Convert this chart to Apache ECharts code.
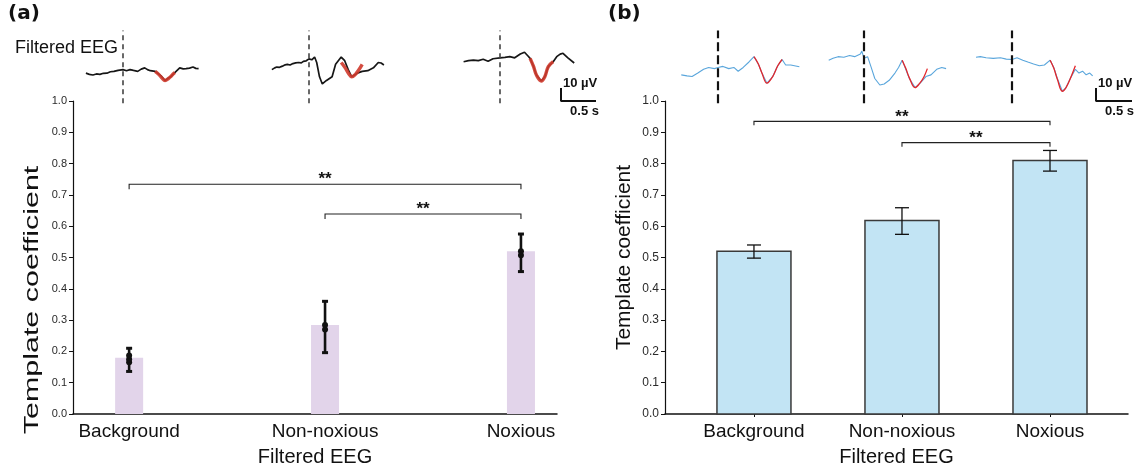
<!DOCTYPE html>
<html>
<head>
<meta charset="utf-8">
<title>Template coefficient – filtered EEG</title>
<script src="https://cdn.jsdelivr.net/npm/echarts@6/dist/echarts.min.js"></script>
<style>
  html, body { margin: 0; padding: 0; background: #fff; }
  #chart { width: 1143px; height: 472px; }
</style>
</head>
<body>
<div id="chart"></div>
<script>
// ---- data ----------------------------------------------------------------
const categories = ['Background', 'Non-noxious', 'Noxious'];

// panel (a): per-condition mean, spread and individual subject values
const meanA = [0.18, 0.284, 0.52];
const lowA = [0.136, 0.196, 0.455];
const highA = [0.21, 0.36, 0.575];
const pointsA = [[0.165, 0.175, 0.187], [0.27, 0.284], [0.507, 0.52]];
// significance pairs: [from, to, level]
const sigA = [[0, 2, 0.734], [1, 2, 0.639]];

// panel (b): mean with error bars
const meanB = [0.52, 0.618, 0.81];
const lowB = [0.498, 0.574, 0.776];
const highB = [0.54, 0.659, 0.842];
const sigB = [[0, 2, 0.935], [1, 2, 0.867]];

// example filtered EEG traces: [time (s) from stimulus, amplitude (µV)]
const traceA1 = [[-0.53,-0.9],[-0.48,-1.8],[-0.43,-2.3],[-0.38,-1.5],[-0.33,-1.8],[-0.28,-1.0],[-0.23,-0.9],[-0.18,0.2],[-0.13,0.5],[-0.07,1.2],[0,1.8],[0.05,1.0],[0.10,1.8],[0.15,1.2],[0.21,0.5],[0.26,2.2],[0.31,3.2],[0.35,1.8],[0.39,1.0],[0.46,0.5],[0.54,-2.8],[0.60,-6.5],[0.68,-3.7],[0.74,-0.4],[0.81,3.2],[0.86,2.4],[0.90,2.6],[0.95,3.0],[1.00,3.8],[1.04,2.8],[1.08,2.6]];
const templA1 = [[0.46,0.5],[0.51,-1.8],[0.56,-4.8],[0.60,-6.5],[0.65,-5.0],[0.69,-3.0],[0.74,-0.4]];
const traceA2 = [[-0.53,1.8],[-0.49,3.2],[-0.46,3.8],[-0.42,3.6],[-0.38,4.5],[-0.34,5.5],[-0.31,5.9],[-0.27,5.4],[-0.23,6.5],[-0.19,7.0],[-0.15,7.3],[-0.11,7.0],[-0.08,8.2],[-0.04,8.6],[0,10.1],[0.04,9.4],[0.08,11.5],[0.11,7.3],[0.15,-3.7],[0.19,-9.2],[0.25,-6.5],[0.33,-3.7],[0.38,5.9],[0.46,11.5],[0.51,8.7],[0.56,1.8],[0.61,-3.7],[0.69,-0.9],[0.76,0.5],[0.84,1.0],[0.92,3.2],[0.99,7.3],[1.03,6.9],[1.07,5.4]];
const templA2 = [[0.46,7.3],[0.52,3.0],[0.57,-1.5],[0.61,-3.7],[0.66,-2.0],[0.71,1.5],[0.76,5.9]];
const traceA3 = [[-0.52,7.9],[-0.45,8.7],[-0.38,9.2],[-0.31,8.7],[-0.24,9.8],[-0.17,8.2],[-0.10,10.2],[0,10.9],[0.07,11.3],[0.14,11.8],[0.21,10.9],[0.29,13.8],[0.35,15.2],[0.40,12.3],[0.43,10.5],[0.48,4.1],[0.52,-2.3],[0.59,-6.9],[0.64,-3.6],[0.69,4.1],[0.76,7.9],[0.81,11.8],[0.86,13.8],[0.90,14.4],[0.97,10.8],[1.06,6.9]];
const templA3 = [[0.43,10.5],[0.48,4.1],[0.52,-2.3],[0.59,-6.9],[0.64,-3.6],[0.69,4.1],[0.76,7.9]];

const traceB1 = [[-0.51,-2.2],[-0.43,-3.0],[-0.36,-3.5],[-0.28,-0.8],[-0.20,2.1],[-0.13,3.5],[-0.05,2.6],[0,3.5],[0.07,4.3],[0.15,2.6],[0.22,3.5],[0.28,0.6],[0.35,3.5],[0.43,7.7],[0.50,11.8],[0.56,6.2],[0.61,-0.8],[0.68,-8.6],[0.76,-3.5],[0.83,4.8],[0.89,9.6],[0.94,5.4],[1.01,5.4],[1.13,4.0]];
const templB1 = [[0.50,11.8],[0.56,6.2],[0.61,-0.8],[0.68,-8.6],[0.76,-3.5],[0.83,4.8],[0.89,9.6]];
const traceB2 = [[-0.49,9.1],[-0.43,10.5],[-0.36,11.8],[-0.28,11.3],[-0.20,12.7],[-0.13,11.8],[-0.05,13.8],[-0.03,16.1],[0,10.5],[0.05,11.8],[0.10,3.5],[0.15,-5.0],[0.22,-10.0],[0.28,-9.2],[0.35,-6.4],[0.43,-0.8],[0.48,3.5],[0.53,9.1],[0.58,2.1],[0.63,-5.0],[0.71,-12.0],[0.78,-8.6],[0.86,-3.5],[0.93,-2.2],[1.01,2.1],[1.08,3.5],[1.14,2.6]];
const templB2 = [[0.53,9.1],[0.58,2.8],[0.63,-4.5],[0.71,-12.0],[0.77,-9.0],[0.83,-4.0],[0.88,2.6]];
const traceB3 = [[-0.50,11.3],[-0.44,11.8],[-0.36,11.0],[-0.26,10.5],[-0.16,11.0],[-0.08,9.9],[0,9.6],[0.07,11.0],[0.15,9.1],[0.22,7.7],[0.30,6.2],[0.38,4.8],[0.45,5.4],[0.53,9.1],[0.58,3.5],[0.63,-5.0],[0.70,-14.8],[0.75,-12.0],[0.81,-5.0],[0.88,2.1],[0.93,-0.8],[0.98,0.6],[1.03,-2.2],[1.08,-0.8],[1.12,-3.0]];
const templB3 = [[0.53,9.1],[0.58,3.0],[0.63,-5.5],[0.70,-14.8],[0.75,-12.0],[0.81,-5.0],[0.88,4.8]];

// scale bar: 0.5 s by 10 µV
const scaleBar = [[0, 10], [0, 0], [0.5, 0]];

// ---- layout & style ------------------------------------------------------
const FONT = '"Liberation Sans", Arial, Helvetica, sans-serif';
const INK = '#111';
const BAR_A = '#e2d4ea';
const BAR_B = '#c2e4f4';

// inset geometry (pixel position of stimulus marker, pixels per second)
const insetsA = [traceA1, traceA2, traceA3].map((t, k) => ({ x0: [123, 309, 500][k], pps: 70, trace: t, templ: [templA1, templA2, templA3][k] }));
const insetsB = [traceB1, traceB2, traceB3].map((t, k) => ({ x0: [718, 864, 1012][k], pps: 72, trace: t, templ: [templB1, templB2, templB3][k] }));

const grids = [
  { left: 73, top: 101, width: 484, height: 316 },   // 0: panel a
  { left: 665, top: 101, width: 463, height: 317 },  // 1: panel b
];
const xAxes = [], yAxes = [], series = [];

function tickFmt(v) { return v.toFixed(1); }

function valueY(gridIndex, fontSize) {
  return {
    type: 'value', gridIndex, min: 0, max: 1, interval: 0.1,
    axisLine: { show: true, onZero: false, lineStyle: { color: INK, width: 1.2 } },
    axisTick: { show: true, length: 4, lineStyle: { color: INK } },
    axisLabel: { formatter: tickFmt, fontFamily: FONT, fontSize, color: '#2a2a2a', margin: 6 },
    splitLine: { show: false }
  };
}

// panel a axes: category positions 0,1,2 on a value scale
xAxes.push({
  type: 'value', gridIndex: 0, min: -0.2865, max: 2.184,
  axisLine: { show: true, onZero: false, lineStyle: { color: INK, width: 1.5 } },
  axisTick: { show: false },
  axisLabel: { customValues: [0, 1, 2], formatter: v => categories[v], fontFamily: FONT, fontSize: 19, color: INK, margin: 8 },
  splitLine: { show: false },
  name: 'Filtered EEG', nameLocation: 'middle', nameGap: 33,
  nameTextStyle: { fontFamily: FONT, fontSize: 20, color: INK }
});
yAxes.push(valueY(0, 11));

// panel b axes
xAxes.push({
  type: 'value', gridIndex: 1, min: -0.601, max: 2.527,
  axisLine: { show: true, onZero: false, lineStyle: { color: INK, width: 1.5 } },
  axisTick: { show: true, customValues: [0, 1, 2], length: 3, lineStyle: { color: INK } },
  axisLabel: { customValues: [0, 1, 2], formatter: v => categories[v], fontFamily: FONT, fontSize: 19, color: INK, margin: 8 },
  splitLine: { show: false },
  name: 'Filtered EEG', nameLocation: 'middle', nameGap: 33,
  nameTextStyle: { fontFamily: FONT, fontSize: 20, color: INK }
});
yAxes.push(Object.assign(valueY(1, 12), {
  name: 'Template coefficient', nameLocation: 'middle', nameGap: 30, nameRotate: 90,
  nameTextStyle: { fontFamily: FONT, fontSize: 21, color: INK }
}));

function barSeries(gridIndex, means, frac, style) {
  return {
    type: 'custom', xAxisIndex: gridIndex, yAxisIndex: gridIndex, z: 2,
    data: means.map((m, i) => [i, m]),
    renderItem(params, api) {
      const i = api.value(0);
      const a = api.coord([i - frac / 2, api.value(1)]);
      const b = api.coord([i + frac / 2, 0]);
      return { type: 'rect', shape: { x: a[0], y: a[1], width: b[0] - a[0], height: b[1] - a[1] }, style };
    }
  };
}

function errSeries(gridIndex, lows, highs, opts) {
  return {
    type: 'custom', xAxisIndex: gridIndex, yAxisIndex: gridIndex, z: 4,
    data: lows.map((l, i) => [i, l, highs[i]]),
    renderItem(params, api) {
      const i = api.value(0);
      const lo = api.coord([i, api.value(1)]);
      const hi = api.coord([i, api.value(2)]);
      const st = { stroke: INK, lineWidth: opts.width };
      const kids = [
        { type: 'line', shape: { x1: lo[0], y1: lo[1], x2: hi[0], y2: hi[1] }, style: st },
        { type: 'line', shape: { x1: lo[0] - opts.cap, y1: lo[1], x2: lo[0] + opts.cap, y2: lo[1] }, style: { stroke: INK, lineWidth: opts.capWidth } },
        { type: 'line', shape: { x1: hi[0] - opts.cap, y1: hi[1], x2: hi[0] + opts.cap, y2: hi[1] }, style: { stroke: INK, lineWidth: opts.capWidth } }
      ];
      (opts.points ? opts.points[params.dataIndex] : []).forEach(p => {
        const c = api.coord([i, p]);
        kids.push({ type: 'circle', shape: { cx: c[0], cy: c[1], r: 3 }, style: { fill: INK } });
      });
      return { type: 'group', children: kids };
    }
  };
}

function sigSeries(gridIndex, pairs, tick) {
  return {
    type: 'custom', xAxisIndex: gridIndex, yAxisIndex: gridIndex, z: 5,
    data: pairs,
    renderItem(params, api) {
      const a = api.coord([api.value(0), api.value(2)]);
      const b = api.coord([api.value(1), api.value(2)]);
      return {
        type: 'group', children: [
          { type: 'polyline', shape: { points: [[a[0], a[1] + tick], a, b, [b[0], b[1] + tick]] }, style: { stroke: '#222', lineWidth: 1.1, fill: 'none' } },
          { type: 'text', x: (a[0] + b[0]) / 2, y: a[1] + 4, style: { text: '**', fontFamily: FONT, fontSize: 17, fontWeight: 'bold', fill: INK, align: 'center', verticalAlign: 'bottom' } }
        ]
      };
    }
  };
}

series.push(barSeries(0, meanA, 0.143, { fill: BAR_A }));
series.push(errSeries(0, lowA, highA, { width: 2.6, cap: 3, capWidth: 3, points: pointsA }));
series.push(sigSeries(0, sigA, 5));

series.push(barSeries(1, meanB, 0.5, { fill: BAR_B, stroke: '#3a3a3a', lineWidth: 1.5 }));
series.push(errSeries(1, lowB, highB, { width: 1.3, cap: 7, capWidth: 1.3 }));
series.push(sigSeries(1, sigB, 4));

// EEG inset panels, all on a shared -24..32 µV window
function addInset(inset, look) {
  const g = grids.length;
  grids.push({ left: inset.x0 - 0.6 * inset.pps, top: 30.4, width: 1.8 * inset.pps, height: 72.8 });
  xAxes.push({ type: 'value', gridIndex: g, min: -0.6, max: 1.2, show: false });
  yAxes.push({ type: 'value', gridIndex: g, min: -24, max: 32, show: false });
  series.push({
    type: 'line', xAxisIndex: g, yAxisIndex: g, data: inset.trace, showSymbol: false, z: 3,
    lineStyle: { color: look.trace, width: look.traceWidth },
    markLine: {
      silent: true, symbol: ['none', 'none'], label: { show: false },
      lineStyle: { color: look.marker, width: look.markerWidth, type: look.dash },
      data: [{ xAxis: 0 }]
    }
  });
  series.push({
    type: 'line', xAxisIndex: g, yAxisIndex: g, data: inset.templ, showSymbol: false, smooth: 0.4, z: 4,
    lineStyle: { color: look.templ, width: look.templWidth, opacity: look.templOpacity }
  });
}
insetsA.forEach(s => addInset(s, { trace: '#161616', traceWidth: 1.7, marker: '#444', markerWidth: 1.6, dash: [5, 4], templ: '#cf3a2c', templWidth: 3.4, templOpacity: 0.9 }));
insetsB.forEach(s => addInset(s, { trace: '#5aa6dc', traceWidth: 1.1, marker: '#111', markerWidth: 2.2, dash: [9, 4], templ: '#e3262a', templWidth: 1.3, templOpacity: 1 }));

function addScaleBar(left, pps) {
  const g = grids.length;
  grids.push({ left, top: 88, width: 0.5 * pps, height: 13 });
  xAxes.push({ type: 'value', gridIndex: g, min: 0, max: 0.5, show: false });
  yAxes.push({ type: 'value', gridIndex: g, min: 0, max: 10, show: false });
  series.push({ type: 'line', xAxisIndex: g, yAxisIndex: g, data: scaleBar, showSymbol: false, lineStyle: { color: INK, width: 2 } });
}
addScaleBar(561, 70);
addScaleBar(1096, 72);

function txt(text, x, y, font, extra) {
  return { type: 'text', x, y, style: Object.assign({ text, font, fill: INK }, extra || {}) };
}

const graphic = [
  txt('(a)', 8, 4, 'bold 20px "DejaVu Sans", sans-serif'),
  txt('(b)', 608, 4, 'bold 20px "DejaVu Sans", sans-serif'),
  txt('Filtered EEG', 15, 48, '18px ' + FONT, { verticalAlign: 'middle' }),
  { type: 'text', x: 32, y: 300, rotation: Math.PI / 2, scaleX: 1.45,
    style: { text: 'Template coefficient', font: '21px ' + FONT, fill: INK, align: 'center', verticalAlign: 'middle' } },
  txt('10 µV', 563, 90, 'bold 13px ' + FONT, { verticalAlign: 'bottom' }),
  txt('0.5 s', 599, 105, 'bold 13px ' + FONT, { align: 'right' }),
  txt('10 µV', 1098, 90, 'bold 13px ' + FONT, { verticalAlign: 'bottom' }),
  txt('0.5 s', 1134, 105, 'bold 13px ' + FONT, { align: 'right' })
];

const chart = echarts.init(document.getElementById('chart'), null, { renderer: 'canvas' });
chart.setOption({
  animation: false,
  backgroundColor: '#fff',
  grid: grids,
  xAxis: xAxes,
  yAxis: yAxes,
  series,
  graphic
});
</script>
</body>
</html>
